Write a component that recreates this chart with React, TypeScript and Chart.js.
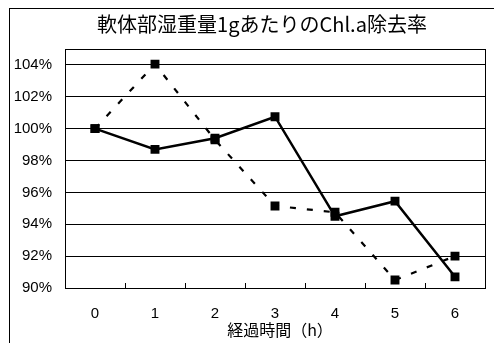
import { useEffect, useRef } from 'react';
import { Chart, registerables } from 'chart.js';

Chart.register(...registerables);

// Elapsed hours (categories)
const hours = ['0', '1', '2', '3', '4', '5', '6'];
// Removal rate per 1 g wet soft-body weight (%)
const solidSeries = [100.0, 98.7, 99.4, 100.75, 94.5, 95.45, 90.7];
const dashedSeries = [100.0, 104.05, 99.3, 95.15, 94.75, 90.5, 92.0];
// Value axis
const yMin = 90;
const yMax = 105;
const yStep = 2;

const chartTitle = '軟体部湿重量1gあたりのChl.a除去率';
const xAxisTitle = '経過時間（h）';

const NUM_FONT = '"Liberation Sans", Arial, sans-serif';
const JP_FONT = '"Noto Sans CJK JP", sans-serif';

// Frames, inward category tick marks, heading and axis title
const decorPlugin = {
  id: 'decor',
  beforeDraw(chart: any) {
    const { ctx, width, height } = chart;
    ctx.save();
    ctx.fillStyle = '#fff';
    ctx.fillRect(0, 0, width, height);
    ctx.restore();
  },
  beforeDatasetsDraw(chart: any) {
    const { ctx, chartArea: a } = chart;
    ctx.save();
    ctx.strokeStyle = '#000';
    ctx.lineWidth = 1;
    // outer chart frame (continues past the canvas edge)
    ctx.strokeRect(9.5, 8.5, 700, 700);
    // plot frame
    ctx.strokeRect(Math.round(a.left) + 0.5, Math.round(a.top) + 0.5,
      Math.round(a.right) - Math.round(a.left), Math.round(a.bottom) - Math.round(a.top));
    // tick marks between categories, pointing into the plot
    const xs = chart.scales.x;
    ctx.beginPath();
    for (let i = 1; i < hours.length; i++) {
      const x = Math.round((xs.getPixelForValue(i - 1) + xs.getPixelForValue(i)) / 2) + 0.5;
      ctx.moveTo(x, Math.round(a.bottom));
      ctx.lineTo(x, Math.round(a.bottom) - 5);
    }
    ctx.stroke();
    ctx.fillStyle = '#000';
    ctx.textAlign = 'center';
    ctx.textBaseline = 'middle';
    // heading
    ctx.font = `20px ${JP_FONT}`;
    ctx.fillText(chartTitle, 262, 24);
    // category axis title
    ctx.font = `16px ${JP_FONT}`;
    ctx.fillText(xAxisTitle, 280, 330);
    ctx.restore();
  },
};

export default function App() {
  const canvasRef = useRef<HTMLCanvasElement | null>(null);

  useEffect(() => {
    const canvas = canvasRef.current;
    if (!canvas) return;
    const chart = new Chart(canvas, {
      type: 'line',
      data: {
        labels: hours,
        datasets: [
          {
            data: solidSeries,
            borderColor: '#000',
            backgroundColor: '#000',
            borderWidth: 2.5,
            pointStyle: 'rect',
            pointRadius: 6.3,
            pointBorderWidth: 0,
            pointBackgroundColor: '#000',
            tension: 0,
            fill: false,
          },
          {
            data: dashedSeries,
            borderColor: '#000',
            backgroundColor: '#000',
            borderWidth: 2.2,
            borderDash: [6, 11],
            pointStyle: 'rect',
            pointRadius: 6.3,
            pointBorderWidth: 0,
            pointBackgroundColor: '#000',
            tension: 0,
            fill: false,
          },
        ],
      },
      options: {
        responsive: false,
        animation: false,
        devicePixelRatio: 1,
        layout: { padding: { top: 49, right: 9, left: 0, bottom: 0 } },
        plugins: {
          legend: { display: false },
          title: { display: false },
          tooltip: { enabled: false },
        },
        scales: {
          x: {
            type: 'category',
            offset: true,
            grid: { display: false, drawTicks: false },
            border: { display: false },
            ticks: {
              color: '#000',
              padding: 17,
              font: { family: NUM_FONT, size: 15 },
              maxRotation: 0,
            },
            afterFit(scale: any) {
              scale.height = 55;
            },
          },
          y: {
            min: yMin,
            max: yMax,
            grid: { color: '#000', lineWidth: 1, drawTicks: false },
            border: { display: false },
            ticks: {
              stepSize: yStep,
              includeBounds: false,
              color: '#000',
              padding: 13,
              font: { family: NUM_FONT, size: 15 },
              callback: (v: any) => `${v}%`,
            },
            afterFit(scale: any) {
              scale.width = 65;
            },
          },
        },
      },
      plugins: [decorPlugin],
    });
    return () => chart.destroy();
  }, []);

  return (
    <div style={{ position: 'fixed', left: 0, top: 0, width: 494, height: 343, background: '#fff' }}>
      <canvas ref={canvasRef} width={494} height={343} style={{ display: 'block' }} />
    </div>
  );
}
